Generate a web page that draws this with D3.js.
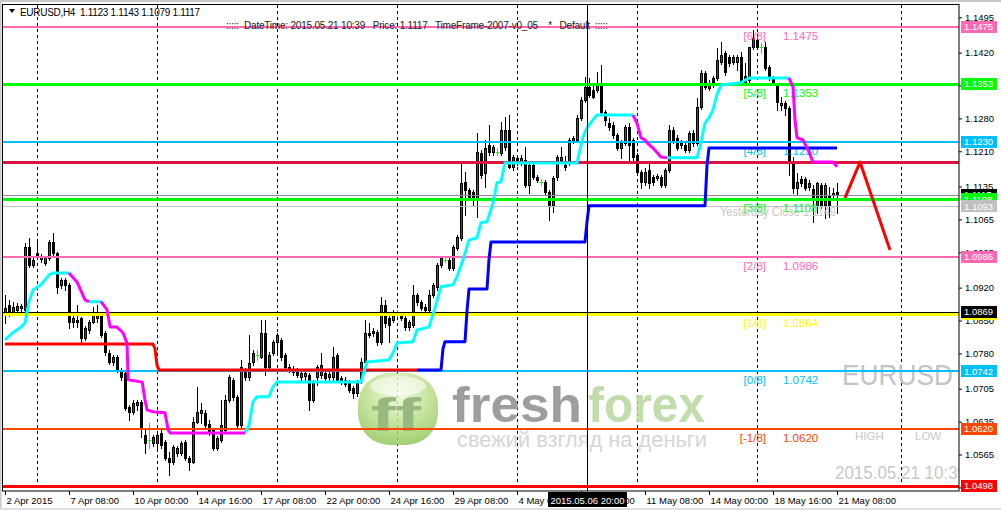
<!DOCTYPE html>
<html>
<head>
<meta charset="utf-8">
<script src="https://cdn.jsdelivr.net/npm/d3@7"></script>
<style>
html, body { margin: 0; padding: 0; background: #fff; }
svg { display: block; font-family: "Liberation Sans", Arial, sans-serif; }
text { white-space: pre; }
</style>
</head>
<body>
<svg id="chart" width="1001" height="510"></svg>
<script>
// EURUSD H4 candles, 2 Apr 2015 16:00 .. 21 May 2015 08:00 (209 bars)
const opens = [
  1.0862,1.0883,1.0868,1.0873,1.0877,1.0873,1.1007,1.0968,1.0994,1.0981,
  1.0973,1.0983,1.1017,1.0994,1.0926,1.0936,1.0926,1.0847,1.0851,1.0856,
  1.0813,1.0830,1.0847,1.0856,1.0862,1.0824,1.0781,1.0762,1.0773,1.0745,
  1.0739,1.0666,1.0656,1.0671,1.0677,1.0607,1.0596,1.0590,1.0590,1.0611,
  1.0592,1.0558,1.0549,1.0568,1.0568,1.0592,1.0558,1.0549,1.0634,1.0654,
  1.0654,1.0630,1.0617,1.0579,1.0596,1.0617,1.0681,1.0724,1.0688,1.0628,
  1.0741,1.0730,1.0762,1.0777,1.0773,1.0824,1.0751,1.0781,1.0805,1.0809,
  1.0777,1.0745,1.0741,1.0743,1.0730,1.0732,1.0734,1.0681,1.0730,1.0734,
  1.0739,1.0730,1.0730,1.0777,1.0728,1.0724,1.0719,1.0707,1.0696,1.0724,
  1.0762,1.0824,1.0824,1.0826,1.0805,1.0883,1.0856,1.0851,1.0866,1.0862,
  1.0856,1.0836,1.0841,1.0905,1.0890,1.0879,1.0873,1.0905,1.0922,1.0968,
  1.0979,1.0979,1.0962,1.1005,1.1026,1.1145,1.1128,1.1124,1.1111,1.1207,
  1.1164,1.1224,1.1209,1.1209,1.1207,1.1219,1.1256,1.1177,1.1196,1.1187,
  1.1192,1.1138,1.1181,1.1155,1.1145,1.1145,1.1124,1.1096,1.1155,1.1192,
  1.1181,1.1187,1.1234,1.1234,1.1281,1.1319,1.1347,1.1340,1.1341,1.1351,
  1.1294,1.1270,1.1266,1.1245,1.1217,1.1228,1.1262,1.1234,1.1202,1.1166,
  1.1145,1.1170,1.1155,1.1153,1.1155,1.1138,1.1170,1.1256,1.1239,1.1224,
  1.1224,1.1213,1.1249,1.1228,1.1304,1.1377,1.1345,1.1366,1.1366,1.1400,
  1.1419,1.1411,1.1400,1.1400,1.1411,1.1370,1.1362,1.1432,1.1447,1.1432,
  1.1432,1.1390,1.1366,1.1351,1.1309,1.1313,1.1302,1.1187,1.1132,1.1151,
  1.1151,1.1134,1.1130,1.1096,1.1138,1.1096,1.1117,1.1117,1.1123
];
const highs = [
  1.0905,1.0894,1.0890,1.0888,1.0885,1.1015,1.1026,1.0983,1.1022,1.0992,
  1.0987,1.1022,1.1036,1.0996,1.0941,1.0941,1.0930,1.0862,1.0883,1.0858,
  1.0839,1.0851,1.0879,1.0883,1.0866,1.0828,1.0788,1.0777,1.0777,1.0749,
  1.0745,1.0671,1.0681,1.0681,1.0681,1.0617,1.0632,1.0607,1.0613,1.0617,
  1.0596,1.0571,1.0586,1.0583,1.0594,1.0596,1.0562,1.0645,1.0709,1.0675,
  1.0660,1.0639,1.0622,1.0605,1.0681,1.0692,1.0734,1.0728,1.0692,1.0766,
  1.0749,1.0819,1.0788,1.0788,1.0851,1.0851,1.0783,1.0809,1.0824,1.0813,
  1.0781,1.0758,1.0754,1.0749,1.0745,1.0745,1.0739,1.0724,1.0756,1.0781,
  1.0745,1.0745,1.0794,1.0781,1.0732,1.0730,1.0724,1.0711,1.0724,1.0771,
  1.0851,1.0845,1.0834,1.0830,1.0900,1.0894,1.0860,1.0873,1.0873,1.0868,
  1.0860,1.0851,1.0926,1.0909,1.0894,1.0885,1.0915,1.0930,1.0973,1.0987,
  1.0983,1.0983,1.1011,1.1032,1.1185,1.1166,1.1132,1.1128,1.1249,1.1213,
  1.1234,1.1266,1.1224,1.1217,1.1273,1.1283,1.1287,1.1202,1.1202,1.1202,
  1.1219,1.1185,1.1185,1.1160,1.1151,1.1149,1.1128,1.1158,1.1202,1.1219,
  1.1200,1.1239,1.1243,1.1287,1.1326,1.1368,1.1366,1.1351,1.1379,1.1394,
  1.1298,1.1281,1.1273,1.1249,1.1234,1.1266,1.1270,1.1239,1.1207,1.1170,
  1.1175,1.1185,1.1160,1.1162,1.1160,1.1175,1.1266,1.1262,1.1245,1.1234,
  1.1230,1.1253,1.1256,1.1324,1.1383,1.1381,1.1362,1.1370,1.1430,1.1443,
  1.1424,1.1415,1.1415,1.1415,1.1421,1.1398,1.1432,1.1468,1.1462,1.1441,
  1.1443,1.1394,1.1370,1.1356,1.1326,1.1317,1.1307,1.1198,1.1164,1.1158,
  1.1155,1.1149,1.1138,1.1145,1.1143,1.1143,1.1134,1.1132,1.1143
];
const lows = [
  1.0845,1.0860,1.0862,1.0866,1.0871,1.0868,1.0964,1.0964,1.0983,1.0975,
  1.0968,1.0979,1.0990,1.0909,1.0919,1.0915,1.0834,1.0836,1.0836,1.0802,
  1.0809,1.0824,1.0845,1.0847,1.0815,1.0777,1.0758,1.0756,1.0741,1.0724,
  1.0660,1.0639,1.0651,1.0660,1.0603,1.0568,1.0579,1.0583,1.0579,1.0579,
  1.0554,1.0522,1.0545,1.0562,1.0564,1.0554,1.0532,1.0547,1.0632,1.0632,
  1.0622,1.0607,1.0575,1.0575,1.0592,1.0613,1.0677,1.0681,1.0624,1.0624,
  1.0724,1.0724,1.0756,1.0766,1.0771,1.0734,1.0745,1.0777,1.0781,1.0766,
  1.0745,1.0741,1.0734,1.0730,1.0724,1.0724,1.0660,1.0677,1.0713,1.0728,
  1.0724,1.0724,1.0724,1.0719,1.0715,1.0711,1.0698,1.0685,1.0690,1.0717,
  1.0758,1.0815,1.0817,1.0798,1.0800,1.0836,1.0805,1.0847,1.0860,1.0851,
  1.0830,1.0830,1.0836,1.0883,1.0873,1.0868,1.0868,1.0900,1.0915,1.0964,
  1.0975,1.0958,1.0958,1.1000,1.1022,1.1075,1.1107,1.1096,1.1070,1.1153,
  1.1134,1.1202,1.1202,1.1202,1.1202,1.1213,1.1175,1.1170,1.1181,1.1181,
  1.1134,1.1121,1.1151,1.1145,1.1138,1.1119,1.1064,1.1081,1.1149,1.1187,
  1.1170,1.1181,1.1228,1.1230,1.1277,1.1315,1.1326,1.1324,1.1336,1.1290,
  1.1266,1.1256,1.1239,1.1213,1.1196,1.1224,1.1192,1.1192,1.1160,1.1132,
  1.1138,1.1132,1.1138,1.1149,1.1134,1.1134,1.1166,1.1228,1.1213,1.1217,
  1.1209,1.1209,1.1221,1.1224,1.1300,1.1343,1.1341,1.1347,1.1362,1.1396,
  1.1373,1.1392,1.1396,1.1383,1.1356,1.1353,1.1356,1.1428,1.1430,1.1419,
  1.1383,1.1362,1.1353,1.1298,1.1298,1.1287,1.1160,1.1121,1.1117,1.1136,
  1.1128,1.1128,1.1060,1.1079,1.1090,1.1068,1.1070,1.1107,1.1079
];
const closes = [
  1.0877,1.0868,1.0879,1.0881,1.0881,1.1007,1.0968,1.0979,1.0985,1.0987,
  1.0985,1.1017,1.0994,1.0922,1.0936,1.0926,1.0847,1.0856,1.0847,1.0813,
  1.0834,1.0847,1.0862,1.0862,1.0819,1.0783,1.0762,1.0773,1.0745,1.0730,
  1.0664,1.0656,1.0675,1.0677,1.0624,1.0590,1.0596,1.0603,1.0607,1.0586,
  1.0558,1.0549,1.0581,1.0579,1.0590,1.0558,1.0549,1.0634,1.0656,1.0660,
  1.0628,1.0611,1.0579,1.0600,1.0628,1.0681,1.0730,1.0688,1.0628,1.0751,
  1.0730,1.0760,1.0781,1.0777,1.0824,1.0751,1.0777,1.0805,1.0819,1.0773,
  1.0751,1.0751,1.0745,1.0734,1.0739,1.0739,1.0681,1.0717,1.0751,1.0756,
  1.0728,1.0737,1.0773,1.0724,1.0719,1.0715,1.0702,1.0696,1.0717,1.0762,
  1.0824,1.0819,1.0828,1.0805,1.0883,1.0845,1.0841,1.0866,1.0866,1.0856,
  1.0836,1.0847,1.0905,1.0890,1.0877,1.0873,1.0905,1.0926,1.0968,1.0983,
  1.0979,1.0962,1.1007,1.1028,1.1143,1.1128,1.1113,1.1111,1.1209,1.1160,
  1.1217,1.1209,1.1219,1.1209,1.1256,1.1256,1.1177,1.1198,1.1187,1.1196,
  1.1138,1.1181,1.1155,1.1149,1.1145,1.1124,1.1096,1.1153,1.1198,1.1198,
  1.1177,1.1234,1.1239,1.1281,1.1319,1.1347,1.1330,1.1326,1.1351,1.1294,
  1.1277,1.1262,1.1245,1.1217,1.1228,1.1262,1.1224,1.1198,1.1166,1.1145,
  1.1166,1.1143,1.1145,1.1158,1.1138,1.1170,1.1256,1.1234,1.1217,1.1228,
  1.1213,1.1249,1.1228,1.1304,1.1377,1.1347,1.1356,1.1351,1.1404,1.1415,
  1.1379,1.1398,1.1411,1.1411,1.1358,1.1358,1.1432,1.1451,1.1432,1.1432,
  1.1387,1.1366,1.1358,1.1315,1.1313,1.1302,1.1192,1.1132,1.1145,1.1143,
  1.1132,1.1143,1.1111,1.1143,1.1096,1.1138,1.1096,1.1121,1.1117
];

// trailing line indicator, runs of [bar, price]
const maUpRuns = [
  [[0,1.0809],[2,1.0824],[4,1.0836],[5,1.0845],[6,1.0890],[7,1.0915],[9,1.0926],[10,1.0936],[11,1.0947],[12,1.0951],[16,1.0951]],
  [[21,1.0890],[24,1.0890]],
  [[60,1.0611],[61,1.0626],[62,1.0677],[63,1.0688],[66,1.0688],[67,1.0709],[68,1.0719],[89,1.0719],[90.5,1.0762],[96,1.0766],
   [97,1.0781],[98,1.0802],[102,1.0805],[103,1.0830],[106,1.0836],[107.5,1.0877],[109,1.0922],[112,1.0926],[113,1.0943],
   [114.5,1.0979],[116,1.1021],[118,1.1026],[119,1.1058],[120.5,1.1060],[122,1.1100],[122.5,1.1121],[123,1.1143],[124,1.1145],
   [125,1.1185],[143,1.1185],[144.5,1.1240],[145.5,1.1260],[147,1.1277],[148,1.1287],[157,1.1287]],
  [[165.5,1.1196],[173,1.1196],[174,1.1228],[175,1.1270],[176,1.1281],[177,1.1298],[178,1.1330],[179,1.1351],[184,1.1356],[186,1.1366],[196,1.1366]]
];
const maDownRuns = [
  [[16,1.0951],[18,1.0932],[20,1.0894],[21,1.0890]],
  [[24,1.0890],[25.5,1.0873],[26.3,1.0836],[28,1.0836],[29.5,1.0824],[30.5,1.0802],[30.8,1.0724],[34.3,1.0719],[35,1.0681],
   [35.5,1.0660],[37,1.0656],[40,1.0654],[40.8,1.0617],[41.3,1.0611],[60,1.0611]],
  [[157,1.1287],[158,1.1270],[159,1.1239],[160,1.1234],[161,1.1224],[162,1.1217],[164,1.1198],[165.5,1.1196]],
  [[196,1.1366],[197,1.1347],[197.5,1.1277],[198,1.1239],[199.5,1.1234],[201,1.1209],[202,1.1187],[207,1.1187],[208,1.1177]]
];

// step trend line (red = down, blue = up)
const stepDown = [[0,1.0800],[37,1.0800],[37.5,1.0790],[38,1.0755],[38.5,1.0745],[103,1.0745]];
const stepUp = [[103,1.0745],[109,1.0745],[109.5,1.0790],[110,1.0805],[115,1.0805],[115.5,1.0870],[116,1.0917],[120.5,1.0917],
  [121,1.0980],[121.5,1.1017],[145,1.1017],[145.5,1.1060],[146,1.1094],[175,1.1094],[175.5,1.1180],[176,1.1217],[208,1.1217]];

// projection zigzag
const zigzag = [[210,1.1111],[213.75,1.1187],[221.25,1.1000]];

// Murrey math levels
const murreyNames = ['[6/8]','[5/8]','[4/8]','[3/8]','[2/8]','[1/8]','[0/8]','[-1/8]','[-2/8]'];
const murreyPrices = [1.1475,1.1353,1.1230,1.1108,1.0986,1.0864,1.0742,1.0620,1.0498];

const pivotPrice = 1.1187;
const bidPrice = 1.1117;
const yesterdayPrice = 1.1093;
const markPrice = 1.0869;

const yTickValues = [1.1495,1.1420,1.1350,1.1280,1.1210,1.1135,1.1065,1.0995,1.0920,1.0850,1.0780,1.0705,1.0635,1.0565,1.0495];
const xTickBars = [0,16,32,48,64,80,96,112,128,144,160,176,192,208];
const xTickLabels = ['2 Apr 2015','7 Apr 08:00','10 Apr 00:00','14 Apr 16:00','17 Apr 08:00','22 Apr 00:00','24 Apr 16:00',
  '29 Apr 08:00','4 May 00:00','6 May 16:00','11 May 08:00','14 May 00:00','18 May 16:00','21 May 08:00'];
const gridBars = [8,38,68,98,128,158,188,224];
const crossBar = 145;

const svg = d3.select('#chart');
const plot = {left: 3, top: 5, right: 959, bottom: 491};

const x = d3.scaleLinear().domain([0, 208]).range([5, 837]);
const y = d3.scaleLinear().domain([1.0498, 1.1475]).range([486, 26.7]);
const py = (p, w) => (w % 2 ? Math.round(y(p)) + 0.5 : Math.round(y(p))); // crisp horizontal lines

// window chrome
svg.append('rect').attr('width', 1001).attr('height', 510).attr('fill', '#fff');
svg.append('rect').attr('width', 1001).attr('height', 2).attr('fill', '#c8c8c8');
svg.append('rect').attr('width', 1.5).attr('height', 510).attr('fill', '#c8c8c8');
svg.append('rect').attr('y', 508).attr('width', 1001).attr('height', 2).attr('fill', '#e0e0e0');

const defs = svg.append('defs');
defs.append('clipPath').attr('id', 'plotClip').append('rect')
  .attr('x', plot.left).attr('y', plot.top)
  .attr('width', plot.right - plot.left).attr('height', plot.bottom - plot.top);
const grad = defs.append('radialGradient').attr('id', 'blob').attr('cx', '50%').attr('cy', '30%').attr('r', '70%');
grad.append('stop').attr('offset', '0%').attr('stop-color', '#eef8dd');
grad.append('stop').attr('offset', '55%').attr('stop-color', '#bfe08f');
grad.append('stop').attr('offset', '100%').attr('stop-color', '#94c95e');

const g = svg.append('g').attr('clip-path', 'url(#plotClip)');

// vertical dashed grid
g.append('g').selectAll('line').data(gridBars).join('line')
  .attr('x1', d => Math.round(x(d)) + 0.5).attr('x2', d => Math.round(x(d)) + 0.5)
  .attr('y1', plot.top).attr('y2', plot.bottom)
  .attr('stroke', '#000').attr('stroke-dasharray', '3,3').attr('shape-rendering', 'crispEdges');

// watermark
const wm = g.append('g').attr('opacity', 0.85);
wm.append('rect').attr('x', 358).attr('y', 373).attr('width', 80).attr('height', 72).attr('rx', 32)
  .attr('fill', 'url(#blob)');
wm.append('ellipse').attr('cx', 398).attr('cy', 386).attr('rx', 28).attr('ry', 10).attr('fill', '#fff').attr('opacity', 0.55);
wm.append('text').attr('x', 371).attr('y', 431).attr('font-size', 46).attr('font-weight', 'bold')
  .attr('fill', '#86ad6a').attr('textLength', 50).attr('lengthAdjust', 'spacingAndGlyphs').text('ff');
wm.append('text').attr('x', 452).attr('y', 422).attr('font-size', 50).attr('font-weight', 'bold')
  .attr('fill', '#8e8e8e').attr('textLength', 130).attr('lengthAdjust', 'spacingAndGlyphs').text('fresh');
wm.append('text').attr('x', 588).attr('y', 422).attr('font-size', 50).attr('font-weight', 'bold')
  .attr('fill', '#b7d89d').attr('textLength', 117).attr('lengthAdjust', 'spacingAndGlyphs').text('forex');
wm.append('text').attr('x', 457).attr('y', 447).attr('font-size', 22)
  .attr('fill', '#cfcfcf').attr('textLength', 250).attr('lengthAdjust', 'spacingAndGlyphs').text('свежий взгляд на деньги');

g.append('text').attr('x', 842).attr('y', 385).attr('font-size', 30).attr('fill', '#c4c4c4')
  .attr('textLength', 111).attr('lengthAdjust', 'spacingAndGlyphs').text('EURUSD');
g.append('text').attr('x', 855).attr('y', 440).attr('font-size', 11.5).attr('fill', '#c8c8c8').text('HIGH');
g.append('text').attr('x', 915).attr('y', 440).attr('font-size', 11.5).attr('fill', '#c8c8c8').text('LOW');
g.append('text').attr('x', 835).attr('y', 479).attr('font-size', 18).attr('fill', '#c8c8c8')
  .attr('textLength', 132).attr('lengthAdjust', 'spacingAndGlyphs').text('2015.05.21 10:39');
g.append('line').attr('x1', 902.5).attr('x2', 902.5).attr('y1', 400).attr('y2', 424)
  .attr('stroke', '#a8d8ee').attr('stroke-dasharray', '1,2');

// candles
const candles = opens.map((o, i) => ({i, o, h: highs[i], l: lows[i], c: closes[i]}));
const cx = d => Math.round(x(d.i));
const gc = g.append('g').attr('shape-rendering', 'crispEdges');
gc.selectAll('line.wick').data(candles).join('line').attr('class', 'wick')
  .attr('x1', d => cx(d) + 0.5).attr('x2', d => cx(d) + 0.5)
  .attr('y1', d => Math.round(y(d.h))).attr('y2', d => Math.round(y(d.l)) + 1)
  .attr('stroke', d => d.o === d.c ? '#00ff00' : '#000');
const bodyTop = d => Math.round(y(Math.max(d.o, d.c)));
const bodyH = d => Math.max(1, Math.round(y(Math.min(d.o, d.c))) - bodyTop(d) + 1);
const solid = candles.filter(d => d.o !== d.c);
gc.selectAll('rect.body').data(solid).join('rect').attr('class', 'body')
  .attr('x', d => cx(d) - 1).attr('width', 3)
  .attr('y', bodyTop).attr('height', bodyH).attr('fill', '#000');
gc.selectAll('rect.bull').data(solid.filter(d => d.c > d.o && bodyH(d) > 2)).join('rect').attr('class', 'bull')
  .attr('x', d => cx(d)).attr('width', 1)
  .attr('y', d => bodyTop(d) + 1).attr('height', d => bodyH(d) - 2).attr('fill', '#ff0000');
gc.selectAll('line.doji').data(candles.filter(d => d.o === d.c)).join('line').attr('class', 'doji')
  .attr('x1', d => cx(d) - 1).attr('x2', d => cx(d) + 2)
  .attr('y1', d => Math.round(y(d.o)) + 0.5).attr('y2', d => Math.round(y(d.o)) + 0.5)
  .attr('stroke', '#00ff00');

// horizontal levels
const murreyStyle = [
  {color: '#ff69b4', w: 2}, {color: '#00ff00', w: 3}, {color: '#00bfff', w: 2}, {color: '#00ff00', w: 3},
  {color: '#ff69b4', w: 2}, {color: '#ffff00', w: 3}, {color: '#00bfff', w: 2}, {color: '#ff4500', w: 2}, {color: '#ff0000', w: 3}
];
const hline = (p, color, w) => g.append('line')
  .attr('x1', plot.left).attr('x2', plot.right).attr('y1', py(p, w)).attr('y2', py(p, w))
  .attr('stroke', color).attr('stroke-width', w).attr('shape-rendering', 'crispEdges');

hline(pivotPrice, '#dc143c', 3);
hline(bidPrice, '#8c8c8c', 1);
hline(yesterdayPrice, '#c0c0c0', 1);
hline(markPrice, '#000', 1);
murreyPrices.forEach((p, k) => hline(p, murreyStyle[k].color, murreyStyle[k].w));

// level captions
const lab = g.append('g').attr('font-size', 11.5);
murreyPrices.forEach((p, k) => {
  lab.append('text').attr('x', 766).attr('y', y(p) + 13).attr('text-anchor', 'end')
    .attr('fill', murreyStyle[k].color).text(murreyNames[k]);
  lab.append('text').attr('x', 783).attr('y', y(p) + 13)
    .attr('fill', murreyStyle[k].color).text(p.toFixed(4));
});
g.append('text').attr('x', 720).attr('y', y(yesterdayPrice) + 10).attr('font-size', 12.5).attr('fill', '#c8c8c8')
  .attr('textLength', 116).attr('lengthAdjust', 'spacingAndGlyphs').text('Yesterday Close 1.1149');

// indicator lines
const line = d3.line().x(d => x(d[0])).y(d => y(d[1]));
const drawPath = (pts, color) => g.append('path').attr('d', line(pts)).attr('fill', 'none')
  .attr('stroke', color).attr('stroke-width', 3).attr('stroke-linejoin', 'round');
drawPath(stepDown, '#ff0000');
drawPath(stepUp, '#0000ff');
maUpRuns.forEach(r => drawPath(r, '#00ffff'));
maDownRuns.forEach(r => drawPath(r, '#ff00ff'));
drawPath(zigzag, '#ff0000');

// crosshair
const crossX = Math.round(x(crossBar)) + 2.5;
g.append('line').attr('x1', crossX).attr('x2', crossX).attr('y1', plot.top).attr('y2', plot.bottom)
  .attr('stroke', '#000');

// header texts
svg.append('path').attr('d', 'M9,9 L15,9 L12,13 Z').attr('fill', '#000');
svg.append('text').attr('x', 20).attr('y', 16).attr('font-size', 10).attr('fill', '#000')
  .attr('textLength', 180).attr('lengthAdjust', 'spacing')
  .text('EURUSD,H4  1.1123 1.1143 1.1079 1.1117');
svg.append('text').attr('x', 226).attr('y', 29).attr('font-size', 10).attr('fill', '#222')
  .attr('textLength', 382).attr('lengthAdjust', 'spacing')
  .text(':::::  DateTime: 2015.05.21 10:39   Price: 1.1117   TimeFrame-2007-v0_05    *   Default  :::::');

// frame
svg.append('rect').attr('x', 2.5).attr('y', 4.5).attr('width', plot.right - 2.5).attr('height', plot.bottom - 4.5)
  .attr('fill', 'none').attr('stroke', '#000');

// price axis
const yAxis = svg.append('g').attr('transform', `translate(${plot.right},0)`)
  .call(d3.axisRight(y).tickValues(yTickValues).tickSize(3).tickPadding(3).tickFormat(d3.format('.4f')));
yAxis.select('.domain').remove();
yAxis.attr('font-family', '"Liberation Sans", Arial, sans-serif').attr('font-size', 9.5);

// price boxes
const boxes = [
  [1.1475, '#ff69b4'], [1.1353, '#00ff00'], [1.1230, '#00bfff'], [1.0986, '#ff69b4'], [1.0864, '#ffff00'],
  [1.0742, '#00bfff'], [1.0620, '#ff4500'], [1.0498, '#ff0000'],
  [bidPrice, '#000'], [1.1108, '#00ff00'], [yesterdayPrice, '#c0c0c0'], [markPrice, '#000']
];
const bx = svg.append('g').attr('font-size', 9.5);
boxes.forEach(([p, c]) => {
  const cy = y(p);
  bx.append('rect').attr('x', 961).attr('y', Math.round(cy) - 6).attr('width', 36).attr('height', 12).attr('fill', c);
  bx.append('text').attr('x', 964).attr('y', cy).attr('dy', '0.35em').attr('fill', '#fff').text(p.toFixed(4));
});

// time axis
const xAxis = svg.append('g').attr('transform', `translate(0,${plot.bottom})`)
  .call(d3.axisBottom(x).tickValues(xTickBars).tickSize(4).tickFormat((d, i) => xTickLabels[i]));
xAxis.select('.domain').remove();
xAxis.attr('font-family', '"Liberation Sans", Arial, sans-serif').attr('font-size', 9.5);
xAxis.selectAll('text').attr('text-anchor', 'start').attr('x', 1).attr('y', 6).attr('dy', '0.71em');

// crosshair time box
svg.append('rect').attr('x', crossX - 39.5).attr('y', 492).attr('width', 79).attr('height', 15).attr('fill', '#000');
svg.append('text').attr('x', crossX - 37).attr('y', 503.5).attr('font-size', 9.5).attr('fill', '#fff')
  .attr('textLength', 74).text('2015.05.06 20:00');
</script>
</body>
</html>
